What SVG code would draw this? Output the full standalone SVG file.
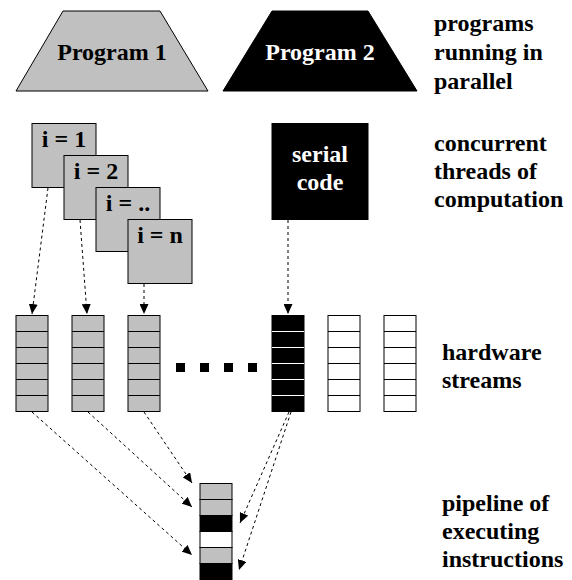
<svg xmlns="http://www.w3.org/2000/svg" width="572" height="580" viewBox="0 0 572 580">
  <style>
    .gray { fill: #c0c0c0; stroke: #000; stroke-width: 1; }
    .blk { fill: #000; stroke: #000; stroke-width: 1; }
    .wht { fill: #fff; stroke: #000; stroke-width: 1; }
    .sep { stroke: #000; stroke-width: 1; }
    .sepw { stroke: #fff; stroke-width: 1; }
    .flow { fill: none; stroke: #000; stroke-width: 1; stroke-dasharray: 3 3; marker-end: url(#head); }
  </style>
  <defs>
    <marker id="head" markerUnits="userSpaceOnUse" markerWidth="11" markerHeight="9" refX="10" refY="4.5" orient="auto">
      <path d="M0,0 L10,4.5 L0,9 z" fill="#000"/>
    </marker>
  </defs>

  <rect width="572" height="580" fill="#fff"/>

  <!-- programs -->
  <g id="program1">
    <polygon points="63,11 160,11 208,91 16,91" class="gray"/>
    <text x="112" y="60" style="font-family:'Liberation Serif',serif;font-weight:700;font-size:24px;text-anchor:middle">Program 1</text>
  </g>
  <g id="program2">
    <polygon points="272,11 368,11 417,91 223,91" class="blk"/>
    <text x="320" y="60" style="font-family:'Liberation Serif',serif;font-weight:700;font-size:24px;text-anchor:middle;fill:#fff">Program 2</text>
  </g>

  <!-- threads -->
  <g id="thread1">
    <rect x="32" y="123.5" width="64" height="64" class="gray"/>
    <text x="64" y="147" style="font-family:'Liberation Serif',serif;font-weight:700;font-size:24px;text-anchor:middle">i = 1</text>
  </g>
  <g id="thread2">
    <rect x="64" y="155.5" width="64" height="64" class="gray"/>
    <text x="96" y="179" style="font-family:'Liberation Serif',serif;font-weight:700;font-size:24px;text-anchor:middle">i = 2</text>
  </g>
  <g id="thread3">
    <rect x="96" y="187.5" width="64" height="64" class="gray"/>
    <text x="128" y="211" style="font-family:'Liberation Serif',serif;font-weight:700;font-size:24px;text-anchor:middle">i = ..</text>
  </g>
  <g id="threadn">
    <rect x="128" y="219.5" width="64" height="64" class="gray"/>
    <text x="160" y="243" style="font-family:'Liberation Serif',serif;font-weight:700;font-size:24px;text-anchor:middle">i = n</text>
  </g>
  <g id="serial">
    <rect x="272" y="123.5" width="96" height="96" class="blk"/>
    <text x="320" y="162" style="font-family:'Liberation Serif',serif;font-weight:700;font-size:24px;text-anchor:middle;fill:#fff">serial</text>
    <text x="320" y="190" style="font-family:'Liberation Serif',serif;font-weight:700;font-size:24px;text-anchor:middle;fill:#fff">code</text>
  </g>

  <!-- hardware streams: six slots each -->
  <g id="stream1">
    <rect x="16" y="315.5" width="32" height="96" class="gray"/>
    <path d="M16,331.5h32M16,347.5h32M16,363.5h32M16,379.5h32M16,395.5h32" class="sep"/>
  </g>
  <g id="stream2">
    <rect x="72" y="315.5" width="32" height="96" class="gray"/>
    <path d="M72,331.5h32M72,347.5h32M72,363.5h32M72,379.5h32M72,395.5h32" class="sep"/>
  </g>
  <g id="stream3">
    <rect x="128" y="315.5" width="32" height="96" class="gray"/>
    <path d="M128,331.5h32M128,347.5h32M128,363.5h32M128,379.5h32M128,395.5h32" class="sep"/>
  </g>
  <g id="ellipsis" fill="#000">
    <rect x="176" y="363" width="9" height="9"/>
    <rect x="200" y="363" width="9" height="9"/>
    <rect x="224" y="363" width="9" height="9"/>
    <rect x="248" y="363" width="9" height="9"/>
  </g>
  <g id="stream4">
    <rect x="272" y="315.5" width="32" height="96" class="blk"/>
    <path d="M272,331.5h32M272,347.5h32M272,363.5h32M272,379.5h32M272,395.5h32" class="sepw"/>
  </g>
  <g id="stream5">
    <rect x="328" y="315.5" width="32" height="96" class="wht"/>
    <path d="M328,331.5h32M328,347.5h32M328,363.5h32M328,379.5h32M328,395.5h32" class="sep"/>
  </g>
  <g id="stream6">
    <rect x="384" y="315.5" width="32" height="96" class="wht"/>
    <path d="M384,331.5h32M384,347.5h32M384,363.5h32M384,379.5h32M384,395.5h32" class="sep"/>
  </g>

  <!-- instruction pipeline -->
  <g id="pipeline">
    <rect x="200" y="483.5" width="32" height="16" class="gray"/>
    <rect x="200" y="499.5" width="32" height="16" class="gray"/>
    <rect x="200" y="515.5" width="32" height="16" class="blk"/>
    <rect x="200" y="531.5" width="32" height="16" class="wht"/>
    <rect x="200" y="547.5" width="32" height="16" class="gray"/>
    <rect x="200" y="563.5" width="32" height="16" class="blk"/>
  </g>

  <!-- connectors -->
  <g id="connectors">
    <line x1="48" y1="188" x2="32" y2="314" class="flow"/>
    <line x1="80" y1="220" x2="87" y2="314" class="flow"/>
    <line x1="144" y1="284" x2="144" y2="314" class="flow"/>
    <line x1="288" y1="220" x2="288" y2="314" class="flow"/>
    <line x1="32" y1="412" x2="192" y2="555" class="flow"/>
    <line x1="88" y1="412" x2="192" y2="507" class="flow"/>
    <line x1="144" y1="412" x2="192" y2="483" class="flow"/>
    <line x1="289" y1="412" x2="240" y2="523" class="flow"/>
    <line x1="291" y1="412" x2="239" y2="570" class="flow"/>
  </g>

  <!-- level captions -->
  <g id="captions">
    <text x="434" y="31" style="font-family:'Liberation Serif',serif;font-weight:700;font-size:24px">programs</text>
    <text x="434" y="60" style="font-family:'Liberation Serif',serif;font-weight:700;font-size:24px">running in</text>
    <text x="434" y="89" style="font-family:'Liberation Serif',serif;font-weight:700;font-size:24px">parallel</text>
    <text x="434" y="151" style="font-family:'Liberation Serif',serif;font-weight:700;font-size:24px">concurrent</text>
    <text x="434" y="179" style="font-family:'Liberation Serif',serif;font-weight:700;font-size:24px">threads of</text>
    <text x="434" y="207" style="font-family:'Liberation Serif',serif;font-weight:700;font-size:24px">computation</text>
    <text x="442" y="360" style="font-family:'Liberation Serif',serif;font-weight:700;font-size:24px">hardware</text>
    <text x="442" y="388" style="font-family:'Liberation Serif',serif;font-weight:700;font-size:24px">streams</text>
    <text x="442" y="511" style="font-family:'Liberation Serif',serif;font-weight:700;font-size:24px">pipeline of</text>
    <text x="442" y="539" style="font-family:'Liberation Serif',serif;font-weight:700;font-size:24px">executing</text>
    <text x="442" y="567" style="font-family:'Liberation Serif',serif;font-weight:700;font-size:24px">instructions</text>
  </g>
</svg>
